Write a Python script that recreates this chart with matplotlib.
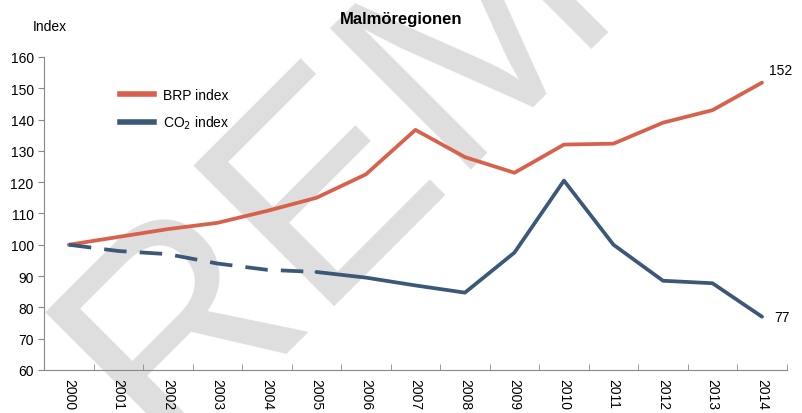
import matplotlib.pyplot as plt
from matplotlib.lines import Line2D

plt.rcParams['font.family'] = ['Liberation Sans', 'DejaVu Sans']

years = [str(y) for y in range(2000, 2015)]
brp_index = [100, 102.5, 105, 107, 110.8, 115, 122.5, 136.7, 128, 123, 132, 132.3, 139, 143, 151.8]
co2_index = [100, 98, 97, 94, 92, 91.3, 89.5, 87, 84.7, 97.5, 120.5, 100, 88.5, 87.7, 77]
dash_until = 5  # CO2 values up to 2005 are dashed (estimated)

orange = '#d8614b'
blue = '#3b5878'

fig = plt.figure(figsize=(8.02, 4.14), dpi=100)
ax = fig.add_axes([0.055, 0.104, 0.926, 0.756])
ax.set_zorder(1)
ax.patch.set_alpha(0)

# watermark behind the chart, anchored at the baseline start of the R
fig.text(0.203, -0.097, 'REMISS', fontsize=209, color='#dedede', rotation=45,
         rotation_mode='anchor', ha='left', va='baseline', zorder=0)

x = list(range(len(years)))
ax.plot(x, brp_index, color=orange, lw=2.7, solid_capstyle='round', zorder=3)
ax.plot(x[:dash_until + 1], co2_index[:dash_until + 1], color=blue, lw=2.7,
        dashes=(6, 3.5), zorder=3)
ax.plot(x[dash_until:], co2_index[dash_until:], color=blue, lw=2.7,
        solid_capstyle='round', zorder=3)

ax.text(x[-1] + 0.15, brp_index[-1] + 4, '%d' % round(brp_index[-1]), fontsize=10, va='center')
ax.text(x[-1] + 0.25, co2_index[-1], '%d' % round(co2_index[-1]), fontsize=10, va='center')

ax.set_xlim(-0.5, len(years) - 0.5)
ax.set_ylim(60, 160)
ax.set_yticks(range(60, 161, 10))
ax.set_xticks(x)
ax.set_xticklabels(years, rotation=270, fontsize=10)
ax.set_xticks([i - 0.5 for i in range(len(years) + 1)], minor=True)
ax.tick_params(axis='x', which='major', length=0, pad=6)
ax.tick_params(axis='x', which='minor', direction='in', length=4, color='#888888')
ax.tick_params(axis='y', direction='out', length=4, color='#888888', labelsize=10)

for s in ['top', 'right']:
    ax.spines[s].set_visible(False)
for s in ['left', 'bottom']:
    ax.spines[s].set_color('#888888')

fig.text(0.5, 0.952, 'Malmöregionen', fontsize=12, fontweight='bold', ha='center', va='center')
fig.text(0.041, 0.935, 'Index', fontsize=10, ha='left', va='center')

handles = [Line2D([], [], color=orange, lw=4), Line2D([], [], color=blue, lw=4)]
ax.legend(handles, ['BRP index', 'CO$_2$ index'], loc='upper left',
          bbox_to_anchor=(0.085, 0.94), frameon=False, fontsize=10,
          handlelength=2.5, labelspacing=0.85, handletextpad=0.65)

fig.savefig('out.png', dpi=100)
